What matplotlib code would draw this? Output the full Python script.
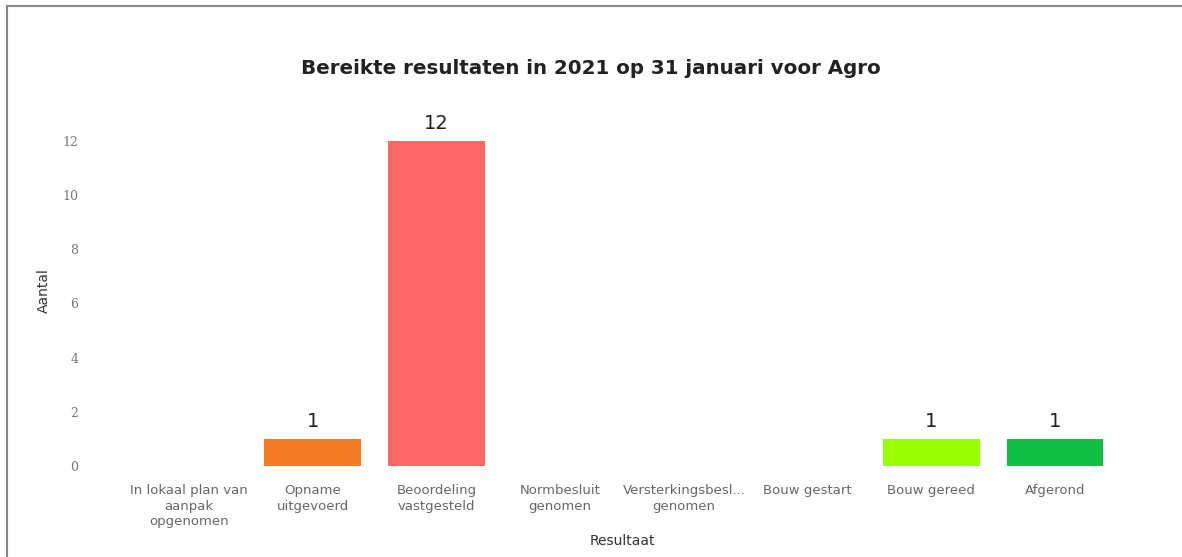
import matplotlib.pyplot as plt
from matplotlib.lines import Line2D

plt.rcParams['font.family'] = ['DejaVu Sans']

# data
categories = ["In lokaal plan van\naanpak\nopgenomen", "Opname\nuitgevoerd",
              "Beoordeling\nvastgesteld", "Normbesluit\ngenomen",
              "Versterkingsbesl...\ngenomen", "Bouw gestart",
              "Bouw gereed", "Afgerond"]
counts = [0, 1, 12, 0, 0, 0, 1, 1]
colors = ['#cccccc', '#f47a26', '#ff6666', '#cccccc', '#cccccc', '#cccccc',
          '#99ff00', '#11bf44']
yticks = [0, 2, 4, 6, 8, 10, 12]

fig = plt.figure(figsize=(11.82, 5.57), dpi=100)
ax = fig.add_axes([127 / 1182, 91 / 557, 990 / 1182, 351 / 557])

xs = list(range(len(categories)))
bars = ax.bar(xs, counts, width=0.78, color=colors)
for x, v in zip(xs, counts):
    if v > 0:
        ax.text(x, v + 0.3, str(v), ha='center', va='bottom',
                fontsize=14, color='#222222')

ax.set_xlim(-0.5, len(categories) - 0.5)
ax.set_ylim(0, 12.95)
ax.set_yticks(yticks)
ax.set_xticks(xs)
ax.set_xticklabels(categories, fontsize=9.5, color='#666666', linespacing=1.25)
ax.tick_params(axis='x', length=0, pad=13)
ax.tick_params(axis='y', length=0, pad=35, labelsize=9, labelcolor='#777777')
for lbl in ax.get_yticklabels():
    lbl.set_family('DejaVu Serif')
for s in ax.spines.values():
    s.set_visible(False)

ax.set_ylabel("Aantal", fontsize=10, color='#333333', labelpad=8)
ax.set_xlabel("Resultaat", fontsize=10, color='#333333', labelpad=4)
fig.text(0.5, 1 - 68 / 557, "Bereikte resultaten in 2021 op 31 januari voor Agro",
         ha='center', va='center', fontsize=14.3, fontweight='bold', color='#222222')

# frame lines (left and top)
fig.add_artist(Line2D([7 / 1182, 7 / 1182], [0, 1 - 6 / 557], color='#888888', lw=1.5))
fig.add_artist(Line2D([7 / 1182, 1], [1 - 6 / 557, 1 - 6 / 557], color='#888888', lw=1.5))

fig.savefig('out.png', dpi=100)
